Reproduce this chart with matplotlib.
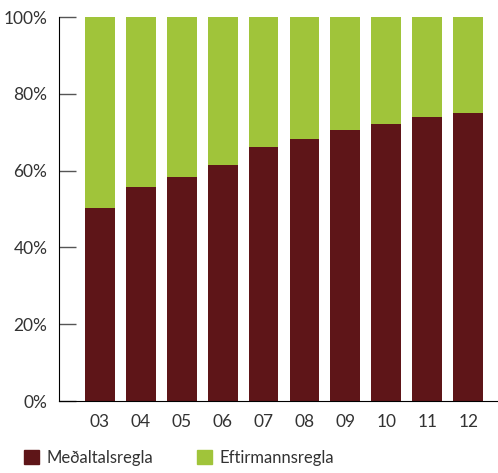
import numpy as np
import matplotlib.pyplot as plt
from matplotlib.patches import Patch

# share of each rule per year, in percent
years = ["03", "04", "05", "06", "07", "08", "09", "10", "11", "12"]
medaltal = [50.3, 55.7, 58.3, 61.5, 66.1, 68.2, 70.6, 72.1, 74.0, 75.0]
eftirmann = [100 - v for v in medaltal]

c_maroon = "#5E1518"
c_green = "#A0C43A"
txt = "#333333"

plt.rcParams['font.family'] = ['Lato', 'DejaVu Sans']

fig = plt.figure(figsize=(4.98, 4.73), dpi=100)
ax = fig.add_axes([58.5/498, 1 - 401/473, 1 - 58.5/498, 384/473])

x = np.arange(len(years))
ax.bar(x, medaltal, width=0.73, color=c_maroon)
ax.bar(x, eftirmann, width=0.73, bottom=medaltal, color=c_green)

ax.set_xlim(-1.01, 9.73)
ax.set_ylim(0, 100)
ax.set_yticks([0, 20, 40, 60, 80, 100])
ax.set_yticklabels(["0%", "20%", "40%", "60%", "80%", "100%"])
ax.set_xticks(x)
ax.set_xticklabels(years)

ax.tick_params(axis='y', direction='in', length=12, width=1, color="#555555",
               labelsize=12.5, labelcolor=txt, pad=8)
ax.tick_params(axis='x', length=0, labelsize=12.5, labelcolor=txt, pad=9)

for s in ["top", "right"]:
    ax.spines[s].set_visible(False)
ax.spines["left"].set_color("black")
ax.spines["bottom"].set_color("black")

handles = [Patch(color=c_maroon, label="Meðaltalsregla"),
           Patch(color=c_green, label="Eftirmannsregla")]
fig.legend(handles=handles, ncol=2, loc="lower left", bbox_to_anchor=(0.025, -0.01),
           frameon=False, fontsize=12, labelcolor=txt, handlelength=0.9, handleheight=0.9,
           handletextpad=0.45, columnspacing=2.6, borderpad=0.2)

fig.savefig("out.png", dpi=100)
